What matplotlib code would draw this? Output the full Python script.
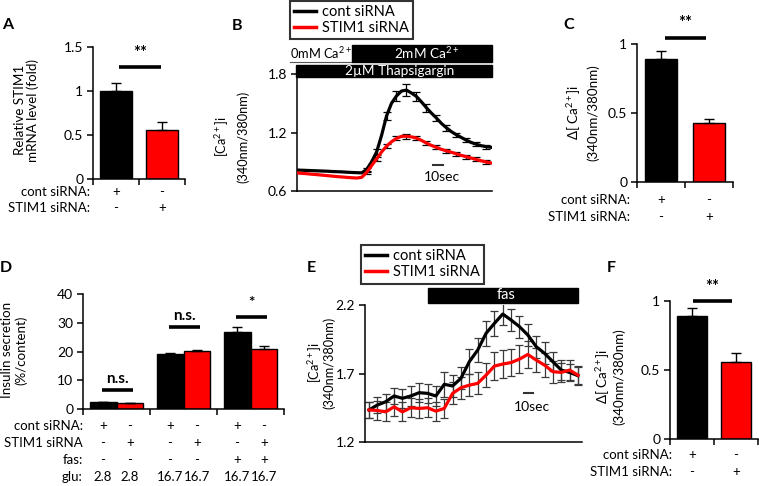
import matplotlib
matplotlib.use('Agg')
import matplotlib.pyplot as plt
from matplotlib.patches import Rectangle
from matplotlib.lines import Line2D
import matplotlib.transforms as mtransforms
import numpy as np

plt.rcParams['font.family'] = ['Lato', 'DejaVu Sans']
plt.rcParams['mathtext.fontset'] = 'custom'
plt.rcParams['mathtext.rm'] = 'Lato'
plt.rcParams['mathtext.it'] = 'Lato:italic'
plt.rcParams['mathtext.bf'] = 'Lato:bold'
plt.rcParams['font.size'] = 10

# ---------------- data ----------------
series_names = ['cont siRNA', 'STIM1 siRNA']
bar_colors = ['#000000', '#ff0000']

# A: relative STIM1 mRNA
a_vals = [1.0, 0.56]
a_errs = [0.09, 0.09]
a_rows = [('cont siRNA:', ['+', '-']), ('STIM1 siRNA:', ['-', '+'])]

# B: thapsigargin Ca trace (time in s)
b_time = np.arange(0, 200, 5)
b_cont = [0.815, 0.813, 0.811, 0.809, 0.807, 0.805, 0.803, 0.800, 0.798, 0.796,
          0.793, 0.790, 0.788, 0.786, 0.820, 0.900, 1.000, 1.170, 1.370, 1.500,
          1.575, 1.625, 1.635, 1.605, 1.570, 1.515, 1.455, 1.400, 1.350, 1.295,
          1.250, 1.210, 1.178, 1.150, 1.122, 1.098, 1.080, 1.065, 1.055, 1.048]
b_stim = [0.785, 0.781, 0.777, 0.772, 0.768, 0.763, 0.758, 0.753, 0.748, 0.744,
          0.740, 0.736, 0.733, 0.740, 0.790, 0.860, 0.930, 1.000, 1.060, 1.105,
          1.140, 1.160, 1.162, 1.155, 1.143, 1.120, 1.092, 1.068, 1.048, 1.028,
          1.012, 0.998, 0.982, 0.966, 0.952, 0.938, 0.924, 0.910, 0.898, 0.888]
b_cont_err = [0, 0, 0, 0, 0, 0, 0, 0, 0, 0,
              0, 0, 0, 0, 0.02, 0, 0.03, 0, 0.04, 0,
              0.05, 0, 0.06, 0, 0.05, 0, 0.04, 0, 0.03, 0,
              0.03, 0, 0.02, 0, 0.02, 0, 0.02, 0, 0.02, 0]
b_stim_err = [0, 0, 0, 0, 0, 0, 0, 0, 0, 0,
              0, 0, 0, 0, 0.02, 0, 0.02, 0, 0.02, 0,
              0.02, 0, 0.025, 0, 0.02, 0, 0.02, 0, 0.02, 0,
              0.02, 0, 0.02, 0, 0.02, 0, 0.02, 0, 0.02, 0]

# C: delta Ca (thapsigargin)
c_vals = [0.89, 0.43]
c_errs = [0.06, 0.025]

# D: insulin secretion
d_groups = 3
d_cont = [2.4, 19.1, 26.8]
d_cont_err = [0.2, 0.4, 1.8]
d_stim = [2.1, 20.3, 20.7]
d_stim_err = [0.15, 0.35, 1.3]
d_sig = ['n.s.', 'n.s.', '*']
d_sig_y = [6.6, 28.5, 32.0]
d_rows = [('cont siRNA:', ['+', '-', '+', '-', '+', '-']),
          ('STIM1 siRNA', ['-', '+', '-', '+', '-', '+']),
          ('fas:', ['-', '-', '-', '-', '+', '+']),
          ('glu:', ['2.8', '2.8', '16.7', '16.7', '16.7', '16.7'])]

# E: fas Ca trace
e_time = np.arange(0, 260, 10)
e_cont = [1.434, 1.470, 1.494, 1.536, 1.519, 1.536, 1.560, 1.555, 1.536, 1.621,
          1.609, 1.665, 1.786, 1.871, 1.993, 2.066, 2.134, 2.090, 2.042, 1.981,
          1.896, 1.847, 1.786, 1.725, 1.708, 1.684]
e_stim = [1.434, 1.430, 1.420, 1.457, 1.420, 1.450, 1.445, 1.450, 1.425, 1.445,
          1.555, 1.596, 1.615, 1.628, 1.688, 1.754, 1.769, 1.780, 1.805, 1.839,
          1.798, 1.761, 1.713, 1.708, 1.725, 1.688]
e_cont_err = [0.06, 0.06, 0.06, 0.06, 0.07, 0.07, 0.07, 0.07, 0.07, 0.09,
              0.08, 0.08, 0.09, 0.09, 0.09, 0.09, 0.08, 0.08, 0.08, 0.08,
              0.08, 0.08, 0.07, 0.07, 0.06, 0.06]
e_stim_err = [0.06, 0.07, 0.07, 0.07, 0.07, 0.07, 0.07, 0.07, 0.07, 0.07,
              0.08, 0.08, 0.08, 0.08, 0.09, 0.10, 0.10, 0.10, 0.10, 0.10,
              0.09, 0.09, 0.08, 0.07, 0.07, 0.07]

# F: delta Ca (fas)
f_vals = [0.89, 0.555]
f_errs = [0.06, 0.065]

# ---------------- figure ----------------
W, H = 759, 486
fig = plt.figure(figsize=(W / 100, H / 100), dpi=100)

TICK_FS = 10
ROW_FS = 9.5
YLAB_FS = 9.6
LET_FS = 11.5


def fy(y):
    return 1 - y / H


def add_ax(x0, ytop, x1, ybot):
    ax = fig.add_axes([x0 / W, fy(ybot), (x1 - x0) / W, (ybot - ytop) / H])
    for s in ['top', 'right']:
        ax.spines[s].set_visible(False)
    for s in ['left', 'bottom']:
        ax.spines[s].set_linewidth(1.1)
        ax.spines[s].set_color('black')
    ax.tick_params(axis='y', direction='out', length=4, width=1.1, pad=3, labelsize=TICK_FS)
    ax.patch.set_alpha(0)
    return ax


def ftext(x, y, s, **kw):
    kw.setdefault('ha', 'center')
    kw.setdefault('va', 'center')
    return fig.text(x / W, fy(y), s, **kw)


def cat_ticks(ax, edges):
    ax.set_xticks([])
    ax.set_xticks(edges, minor=True)
    ax.tick_params(axis='x', which='minor', direction='out', length=4, width=1.1, labelbottom=False)


def row_labels(ax, xs, rows, xright, ys):
    trans = mtransforms.blended_transform_factory(ax.transData, fig.transFigure)
    for (lab, marks), y in zip(rows, ys):
        ftext(xright, y, lab, ha='right', fontsize=ROW_FS)
        for x, m in zip(xs, marks):
            fig.text(x, fy(y), m, transform=trans, ha='center', va='center', fontsize=ROW_FS)


def two_bar_panel(ax, vals, errs, ymax, yticks, yticklabels):
    x = np.arange(len(vals))
    ax.bar(x, vals, width=0.68, color=bar_colors, edgecolor='black', linewidth=1.0, zorder=2)
    ax.errorbar(x, vals, yerr=[np.zeros(len(errs)), errs], fmt='none', ecolor='black',
                elinewidth=1.0, capsize=3.5, capthick=1.0, zorder=3)
    ax.set_xlim(-0.5, 1.5)
    ax.set_ylim(0, ymax)
    ax.set_yticks(yticks)
    ax.set_yticklabels(yticklabels)
    cat_ticks(ax, [-0.5, 0.5, 1.5])
    return x


def sig(ax, x0, x1, y, ytext, s, fs=12):
    ax.plot([x0, x1], [y, y], color='black', lw=2.6, solid_capstyle='butt', clip_on=False)
    ax.text((x0 + x1) / 2, ytext, s, ha='center', va='center', fontsize=fs,
            fontweight='bold', clip_on=False)


def ylab2(x1, x2, y, l1, l2, fs=YLAB_FS):
    ftext(x1, y, l1, rotation=90, fontsize=fs)
    ftext(x2, y, l2, rotation=90, fontsize=fs)


# ---------- Panel A ----------
axA = add_ax(93, 47, 185, 179)
xA = two_bar_panel(axA, a_vals, a_errs, 1.5, [0, 0.5, 1, 1.5], ['0', '0.5', '1', '1.5'])
sig(axA, 0.07, 0.98, 1.27, 1.43, '**')
row_labels(axA, xA, a_rows, 90, [192, 208])
ylab2(20, 33, 110, 'Relative STIM1', 'mRNA level (fold)')
ftext(8, 25, 'A', fontweight='bold', fontsize=LET_FS)

# ---------- Panel B ----------
axB = add_ax(297, 74, 492, 191)
axB.plot(b_time, b_cont, color='black', lw=2.3, zorder=3)
axB.plot(b_time, b_stim, color='#ff0000', lw=2.3, zorder=4)
bc_err = np.array(b_cont_err)
bs_err = np.array(b_stim_err)
mc = bc_err > 0
ms = bs_err > 0
axB.errorbar(b_time[mc], np.array(b_cont)[mc], yerr=bc_err[mc], fmt='none', ecolor='black',
             elinewidth=0.9, capsize=3, capthick=0.9, zorder=2)
axB.errorbar(b_time[ms], np.array(b_stim)[ms], yerr=bs_err[ms], fmt='none', ecolor='black',
             elinewidth=0.9, capsize=3, capthick=0.9, zorder=2)
axB.set_xlim(0, 196)
axB.set_ylim(0.6, 1.8)
axB.set_yticks([0.6, 1.2, 1.8])
axB.set_yticklabels(['0.6', '1.2', '1.8'])
axB.set_xticks([])
axB.plot([137, 147], [0.867, 0.867], color='#333333', lw=1.5)
axB.text(146, 0.745, '10sec', ha='center', va='center', fontsize=10)
# treatment bars
fig.patches.append(Rectangle((352 / W, fy(62)), (492 - 352) / W, 17 / H, transform=fig.transFigure,
                             facecolor='black', edgecolor='black', zorder=5))
fig.patches.append(Rectangle((296 / W, fy(77)), (492 - 296) / W, 12 / H, transform=fig.transFigure,
                             facecolor='black', edgecolor='black', zorder=5))
fig.lines.append(Line2D([290 / W, 352 / W], [fy(62), fy(62)], transform=fig.transFigure,
                        color='#555555', lw=0.8))
ftext(321, 53, '0mM Ca$^{2+}$', fontsize=9.3)
ftext(427, 53, '2mM Ca$^{2+}$', fontsize=9.8, color='white', zorder=6)
ftext(400, 71, '2\u00b5M Thapsigargin', fontsize=9.8, color='white', zorder=6)
ylab2(222, 243, 137, '[Ca$^{2+}$]i', '(340nm/380nm)', fs=9.2)
ftext(237, 26, 'B', fontweight='bold', fontsize=LET_FS)
hB = [Line2D([], [], color='black', lw=2.5), Line2D([], [], color='#ff0000', lw=2.5)]
legB = fig.legend(hB, series_names, loc='upper left', bbox_to_anchor=(290 / W, fy(1)),
                  frameon=True, fancybox=False, edgecolor='black', fontsize=10.5,
                  handlelength=1.5, handletextpad=0.4, borderpad=0.3, labelspacing=0.1,
                  borderaxespad=0)
legB.get_frame().set_linewidth(1.5)

# ---------- Panel C ----------
axC = add_ax(637, 44, 733, 182)
xC = two_bar_panel(axC, c_vals, c_errs, 1.0, [0, 0.5, 1], ['0', '0.5', '1'])
sig(axC, 0.08, 0.94, 1.046, 1.15, '**')
row_labels(axC, xC, a_rows, 630, [200, 217])
ylab2(574, 593, 113, '\u0394[ Ca$^{2+}$]i', '(340nm/380nm)')
ftext(569, 25, 'C', fontweight='bold', fontsize=LET_FS)

# ---------- Panel D ----------
axD = add_ax(83, 294, 284, 409)
gx = np.arange(d_groups)
axD.bar(gx - 0.2, d_cont, width=0.4, color=bar_colors[0], edgecolor='black', linewidth=1.0, zorder=2)
axD.bar(gx + 0.2, d_stim, width=0.4, color=bar_colors[1], edgecolor='black', linewidth=1.0, zorder=2)
axD.errorbar(gx - 0.2, d_cont, yerr=[np.zeros(3), d_cont_err], fmt='none', ecolor='black',
             elinewidth=1.0, capsize=3.5, capthick=1.0, zorder=3)
axD.errorbar(gx + 0.2, d_stim, yerr=[np.zeros(3), d_stim_err], fmt='none', ecolor='black',
             elinewidth=1.0, capsize=3.5, capthick=1.0, zorder=3)
axD.set_xlim(-0.5, 2.5)
axD.set_ylim(0, 40)
axD.set_yticks([0, 10, 20, 30, 40])
cat_ticks(axD, [-0.5, 0.5, 1.5, 2.5])
for g, (s, y) in enumerate(zip(d_sig, d_sig_y)):
    sig(axD, g - 0.22, g + 0.24, y, y + (3.9 if s != '*' else 5.0), s, fs=11)
dx = np.ravel(np.column_stack([gx - 0.2, gx + 0.2]))
row_labels(axD, dx, d_rows, 83, [426, 443, 460, 477])
ylab2(7, 21, 350, 'Insulin secretion', '(%/content)')
ftext(5.5, 268, 'D', fontweight='bold', fontsize=LET_FS)

# ---------- Panel E ----------
axE = add_ax(365, 305, 582, 442)
axE.errorbar(e_time, e_cont, yerr=e_cont_err, fmt='none', ecolor='#3a3a3a', elinewidth=0.9,
             capsize=3, capthick=0.9, zorder=2)
axE.errorbar(e_time, e_stim, yerr=e_stim_err, fmt='none', ecolor='#3a3a3a', elinewidth=0.9,
             capsize=3, capthick=0.9, zorder=2)
axE.plot(e_time, e_cont, color='black', lw=2.3, zorder=3)
axE.plot(e_time, e_stim, color='#ff0000', lw=2.3, zorder=4)
axE.set_xlim(-4.8, 254.8)
axE.set_ylim(1.2, 2.2)
axE.set_yticks([1.2, 1.7, 2.2])
axE.set_yticklabels(['1.2', '1.7', '2.2'])
axE.set_xticks([])
axE.plot([186, 196], [1.555, 1.555], color='#333333', lw=1.5)
axE.text(195, 1.455, '10sec', ha='center', va='center', fontsize=10)
fig.patches.append(Rectangle((428 / W, fy(303)), (578 - 428) / W, 15 / H, transform=fig.transFigure,
                             facecolor='black', edgecolor='black', zorder=5))
ftext(506, 295, 'fas', fontsize=10.5, color='white', zorder=6)
ylab2(315, 329, 363, '[Ca$^{2+}$]i', '(340nm/380nm)', fs=9.2)
ftext(311, 268, 'E', fontweight='bold', fontsize=LET_FS)
legE = fig.legend(hB, series_names, loc='upper left', bbox_to_anchor=(361 / W, fy(245)),
                  frameon=True, fancybox=False, edgecolor='black', fontsize=10.5,
                  handlelength=1.5, handletextpad=0.4, borderpad=0.3, labelspacing=0.12,
                  borderaxespad=0)
legE.get_frame().set_linewidth(1.5)

# ---------- Panel F ----------
axF = add_ax(670, 301, 758, 439)
xF = two_bar_panel(axF, f_vals, f_errs, 1.0, [0, 0.5, 1], ['0', '0.5', '1'])
sig(axF, 0.03, 0.90, 1.0, 1.10, '**')
row_labels(axF, xF, a_rows, 672, [455, 472])
ylab2(603, 619, 377, '\u0394[ Ca$^{2+}$]i', '(340nm/380nm)')
ftext(611, 268, 'F', fontweight='bold', fontsize=LET_FS)

fig.savefig('out.png', dpi=100)
